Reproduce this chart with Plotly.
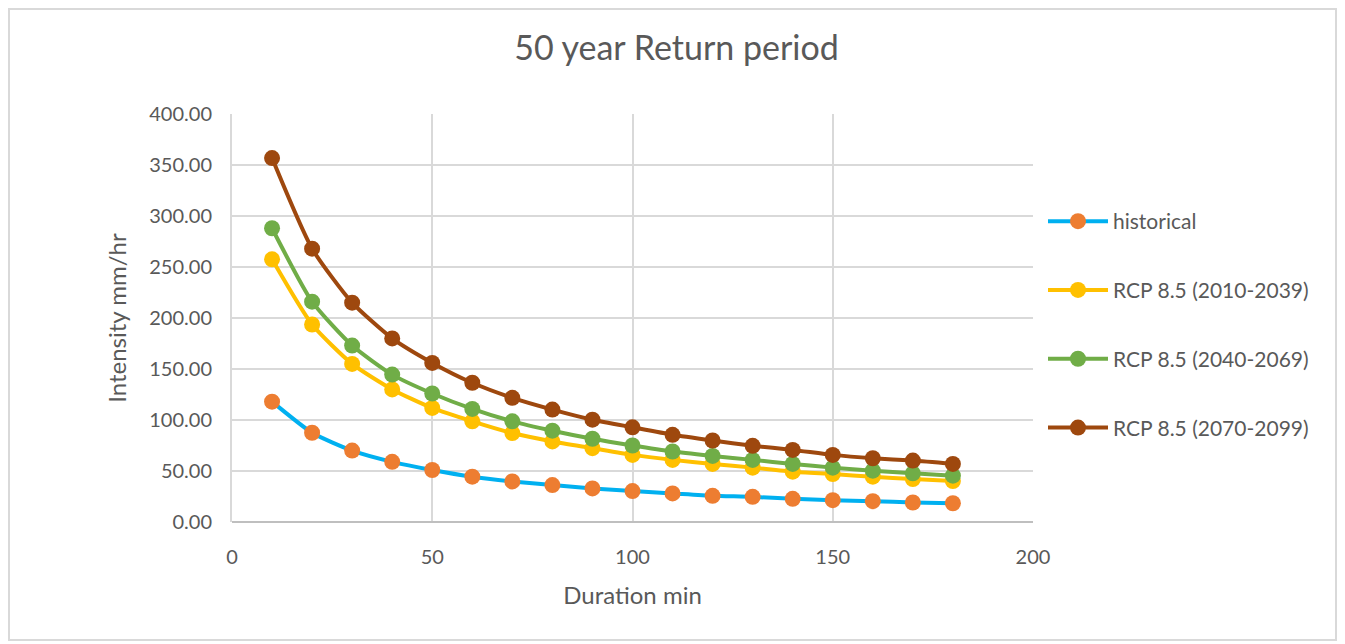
import plotly.graph_objects as go

duration = [10, 20, 30, 40, 50, 60, 70, 80, 90, 100, 110, 120, 130, 140, 150, 160, 170, 180]
historical = [118, 87.5, 70, 59, 51.0, 44.4, 39.8, 36.2, 32.9, 30.3, 28.0, 25.7, 24.7, 22.7, 21.4, 20.4, 19.1, 18.4]
rcp_2010_2039 = [257.5, 193.6, 155, 130, 111.8, 98.7, 87.2, 79, 72.4, 65.8, 60.9, 56.9, 53.3, 49.3, 47, 44.4, 42.1, 40.1]
rcp_2040_2069 = [288, 216, 173, 144.5, 126, 110.9, 98.7, 89.5, 81.6, 75, 69.1, 64.8, 60.9, 56.9, 53.3, 50.3, 47.7, 45.4]
rcp_2070_2099 = [356.8, 268, 215, 180, 156, 136.5, 121.7, 110.2, 100.3, 92.8, 85.5, 79.9, 74.7, 70.7, 65.8, 62.5, 60.2, 56.9]

series = [
    ("historical", historical, "#00B0F0", "#ED7D31"),
    ("RCP 8.5 (2010-2039)", rcp_2010_2039, "#FFC000", "#FFC000"),
    ("RCP 8.5 (2040-2069)", rcp_2040_2069, "#70AD47", "#70AD47"),
    ("RCP 8.5 (2070-2099)", rcp_2070_2099, "#9E480E", "#9E480E"),
]

FONT = "Lato"
GRAY = "#595959"

fig = go.Figure()
for name, vals, lc, mc in series:
    fig.add_trace(go.Scatter(
        x=duration, y=vals, name=name, legendgroup=name, mode="lines+markers",
        line=dict(color=lc, width=4, shape="spline", smoothing=0.6),
        marker=dict(color=mc, size=16),
    ))

# page body has an 8px margin, so the figure is offset by 8px
W, H = 1337, 636
L, T = 224, 106
PW, PH = 801, 408
fig.update_layout(
    width=W, height=H,
    paper_bgcolor="white", plot_bgcolor="white",
    margin=dict(l=L, r=W - L - PW, t=T, b=H - T - PH),
    title=dict(text="50 year Return period", x=0.5, xanchor="center", y=1 - 40 / H, yanchor="middle",
               font=dict(family=FONT, size=34, color=GRAY)),
    font=dict(family=FONT, color=GRAY, size=20),
    legend=dict(x=(1043 - 232) / PW, y=(522 - 201) / PH, xanchor="left", yanchor="top",
                font=dict(family=FONT, size=21, color=GRAY),
                tracegroupgap=38.5, itemwidth=60, bgcolor="rgba(0,0,0,0)"),
    xaxis=dict(range=[0, 200], dtick=50, showgrid=True, gridcolor="#D9D9D9", gridwidth=2,
               zeroline=False, showline=False, ticks="", ticklabelstandoff=21,
               title=dict(text="Duration min", font=dict(family=FONT, size=24, color=GRAY), standoff=20),
               tickfont=dict(size=20, color=GRAY)),
    yaxis=dict(range=[0, 400], dtick=50, tickformat=".2f", showgrid=True, gridcolor="#D9D9D9", gridwidth=2,
               zeroline=False, showline=True, linecolor="#D9D9D9", linewidth=2, ticks="", ticklabelstandoff=14,
               title=dict(text="Intensity mm/hr", font=dict(family=FONT, size=24, color=GRAY), standoff=16),
               tickfont=dict(size=20, color=GRAY)),
    shapes=[
        dict(type="rect", xref="paper", yref="paper",
             x0=(9 - 232) / PW, x1=(1336 - 232) / PW,
             y0=(522 - 640) / PH, y1=(522 - 9) / PH,
             line=dict(color="#D9D9D9", width=2), layer="below"),
        dict(type="line", xref="paper", yref="paper", x0=0, x1=1, y0=0, y1=0,
             line=dict(color="#BFBFBF", width=2)),
    ],
)

fig.write_html("out.html")
